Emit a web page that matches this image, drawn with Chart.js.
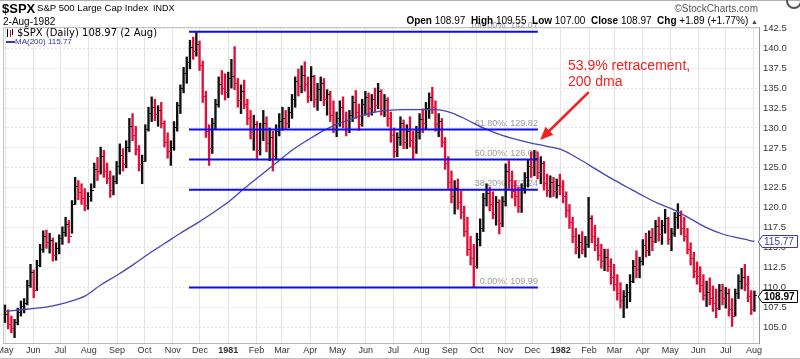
<!DOCTYPE html>
<html><head><meta charset="utf-8">
<script src="https://cdn.jsdelivr.net/npm/chart.js@4/dist/chart.umd.min.js"></script>
<style>
body{margin:0;background:#fff;}
#wrap{position:relative;width:800px;height:359px;overflow:hidden;font-family:Arial,"Liberation Sans",sans-serif;color:#000;}
canvas{position:absolute;left:0;top:0;}
.t{position:absolute;white-space:nowrap;line-height:1;}
</style></head><body>
<div id="wrap">
<canvas id="c" width="800" height="359"></canvas>
<div class="t" style="left:0;top:0;width:800px;height:1px;background:#b0b0b0"></div>
<div class="t" style="left:0;top:358px;width:800px;height:1px;background:#c0c0c0"></div>
<div class="t" style="left:786px;top:-7px;width:12px;height:12px;border:2px solid #555;border-radius:50%"></div>
<div class="t" style="left:2px;top:1.7px;font-size:13px;font-weight:bold">$SPX</div>
<div class="t" style="left:37px;top:3.3px;font-size:9.6px">S&amp;P 500 Large Cap Index</div>
<div class="t" style="left:153px;top:4.1px;font-size:9px">INDX</div>
<div class="t" style="left:3px;top:16.5px;font-size:10px">2-Aug-1982</div>
<div class="t" style="right:42px;top:4px;font-size:10px;color:#555">©StockCharts.com</div>
<div class="t" style="right:42px;top:16px;font-size:10px"><b>Open</b> 108.97 &nbsp;<b>High</b> 109.55 &nbsp;<b>Low</b> 107.00 &nbsp;<b>Close</b> 108.97 &nbsp;<b>Chg</b> +1.89 (+1.77%) <span style="font-size:7px;color:#444">▲</span></div>
<div class="t" style="left:7px;top:29px;width:1px;height:8px;background:#000"></div>
<div class="t" style="left:10px;top:30px;width:1px;height:7px;background:#d01030"></div>
<div class="t" style="left:12px;top:29px;width:1px;height:6px;background:#000"></div>
<div class="t" style="left:17px;top:27.8px;font-size:10px;font-family:'DejaVu Sans',sans-serif">$SPX (Daily) 108.97 (2 Aug)</div>
<div class="t" style="left:6px;top:41px;width:9px;height:2px;background:#3a3aa8"></div>
<div class="t" style="left:15px;top:38.2px;font-size:8px;color:#3030a0">MA(200) 115.77</div>
<div class="t" style="left:568px;top:58.1px;font-size:14px;color:#f52020">53.9% retracement,</div>
<div class="t" style="left:568px;top:74.1px;font-size:14px;color:#f52020">200 dma</div>
</div>
<script>
// Each sample bar covers ~3.5 calendar days starting 1-May-1980
const DAYS_PER_SAMPLE = 3.5;
const highs = [107.8,107.2,106.4,106.0,107.4,108.3,108.6,110.9,112.9,112.2,
 113.4,115.4,117.1,117.2,116.8,116.2,115.6,116.6,117.6,118.8,
 118.4,120.9,123.8,123.4,123.0,122.4,121.9,123.0,125.6,126.3,
 127.6,127.2,125.6,124.6,124.0,125.8,128.0,127.4,128.4,131.2,
 131.8,130.2,127.8,126.6,130.4,132.6,133.9,133.6,132.8,133.2,
 130.9,129.4,128.4,130.8,133.2,135.4,137.6,138.9,141.0,141.4,
 142.07,140.9,138.4,134.6,130.4,131.2,133.6,136.4,137.2,136.8,
 137.0,138.6,140.2,136.2,135.4,136.0,133.6,132.2,131.6,130.8,
 130.6,132.2,131.4,130.0,129.6,130.4,131.8,132.6,132.2,132.6,
 134.2,136.4,137.4,137.8,138.3,136.4,137.7,136.6,135.6,136.4,
 136.2,134.8,134.6,133.4,132.0,133.4,133.9,132.0,132.2,134.0,
 134.7,133.0,133.6,134.6,134.4,134.2,135.0,135.6,134.8,134.2,
 133.8,132.0,130.0,129.4,131.4,131.0,130.4,131.4,129.6,130.2,
 131.8,132.4,133.2,134.4,135.1,133.4,131.8,131.2,128.8,126.4,
 124.6,123.4,123.6,122.1,120.2,118.8,116.4,115.4,116.8,118.6,
 121.8,123.0,122.6,122.0,121.4,121.0,121.4,125.5,125.9,124.6,
 123.4,122.6,123.0,124.4,126.0,127.0,127.2,127.0,126.4,125.8,
 124.2,124.0,123.8,123.6,124.2,123.4,122.0,120.4,118.8,117.4,
 116.6,117.0,116.4,121.3,119.0,117.8,116.2,115.4,114.8,114.8,
 113.6,112.9,111.6,110.6,109.6,110.4,111.6,113.4,114.6,113.8,
 116.0,116.8,117.1,117.4,118.4,118.8,118.4,119.8,118.8,117.4,
 119.4,120.5,119.6,118.8,117.4,115.6,114.4,113.2,112.6,111.6,
 110.8,111.2,110.2,109.8,110.4,110.4,110.0,109.8,108.6,109.8,
 111.6,112.4,112.9,111.4,109.6,109.55];
const lows = [105.6,104.8,104.3,103.7,105.3,106.4,106.8,107.8,110.0,108.7,
 109.6,112.6,114.4,114.9,114.3,113.3,113.4,114.2,115.4,116.4,
 115.6,116.8,120.4,121.0,120.4,119.6,119.8,120.8,122.5,123.4,
 124.2,123.8,123.0,121.3,121.6,123.0,124.2,124.6,125.0,127.0,
 128.4,126.6,124.6,123.0,125.8,129.6,130.8,130.9,130.2,130.0,
 127.6,126.2,125.3,127.2,129.6,131.8,134.4,135.6,137.4,138.6,
 139.0,137.2,133.2,128.8,125.3,126.8,129.8,132.6,134.2,133.5,
 133.8,135.0,134.8,132.6,131.8,132.4,130.4,128.6,127.2,126.0,
 126.6,128.4,127.0,125.9,124.6,126.0,129.0,129.7,129.8,130.0,
 131.2,132.6,134.0,134.4,134.6,133.2,133.4,132.6,132.2,133.4,
 132.8,131.6,130.8,129.4,128.9,130.2,130.0,129.0,129.4,130.8,
 131.2,129.7,130.2,131.6,131.4,131.6,132.0,132.4,131.6,131.4,
 130.2,128.2,126.3,126.4,127.8,127.4,127.4,127.6,126.0,126.8,
 128.6,129.4,129.8,131.2,131.8,129.6,128.9,127.6,124.8,122.4,
 120.6,119.2,119.8,118.6,116.4,114.0,112.8,110.0,112.4,115.2,
 117.0,120.2,119.6,118.6,117.8,116.7,117.6,120.2,122.4,121.2,
 120.2,119.4,119.4,121.8,122.6,123.8,124.0,123.6,123.0,122.2,
 121.4,121.3,121.4,121.2,121.6,120.6,118.8,117.4,115.6,114.2,
 113.7,114.2,113.8,115.0,115.6,114.6,113.4,112.4,112.1,112.0,
 110.4,109.6,108.4,107.4,106.2,107.4,108.2,110.6,111.2,111.2,
 112.8,113.8,114.0,114.6,115.6,115.8,115.4,116.8,115.4,114.6,
 116.4,117.4,116.6,115.8,114.2,112.8,111.2,110.4,109.4,108.4,
 107.6,107.8,107.0,106.2,107.2,107.8,107.4,106.4,105.1,106.4,
 108.6,109.8,109.6,108.2,106.6,107.0];
const closes = [106.6,105.4,104.9,105.6,106.9,107.6,108.0,110.3,111.9,109.6,
 112.8,114.8,116.4,115.6,115.9,114.0,114.9,116.1,116.9,117.9,
 116.4,120.4,122.6,121.9,121.2,120.3,121.4,122.2,124.8,124.6,
 126.4,124.5,123.6,122.2,123.3,125.2,126.6,125.4,127.6,130.2,
 129.1,127.3,125.4,125.8,129.8,131.8,132.6,131.7,132.2,130.6,
 128.2,127.0,127.6,130.1,132.8,134.9,136.8,138.2,140.1,139.6,
 140.5,137.8,134.0,129.6,127.4,130.6,133.0,135.4,135.0,134.4,
 136.2,136.4,135.6,133.4,134.6,133.0,131.2,129.4,130.4,127.2,
 129.8,130.6,128.0,128.8,126.4,129.6,130.8,131.2,130.6,132.0,
 133.6,135.8,135.2,136.6,135.4,134.0,136.4,133.6,134.8,135.6,
 133.6,134.2,131.6,130.4,131.2,132.6,130.8,129.8,131.6,133.2,
 132.0,130.4,133.0,133.8,132.4,133.6,132.8,134.6,132.2,133.4,
 131.2,129.0,127.0,128.8,130.6,128.2,129.6,128.4,127.6,129.4,
 131.0,130.6,132.4,133.8,132.6,130.4,130.8,128.2,125.6,123.2,
 121.4,122.4,120.6,119.4,117.0,114.8,113.6,112.6,116.0,117.4,
 121.2,121.8,120.4,119.2,120.6,118.0,120.8,124.6,123.4,122.0,
 121.4,120.2,122.4,123.8,125.2,125.0,126.2,124.4,125.6,123.0,
 122.2,123.2,122.0,122.8,122.6,121.4,119.6,118.2,116.4,115.0,
 115.6,114.8,115.4,118.6,116.4,115.2,114.0,113.2,113.8,112.6,
 111.2,110.4,109.2,108.4,108.8,109.4,110.8,112.6,112.2,113.2,
 115.2,114.6,116.2,115.8,117.6,116.6,117.8,118.6,116.0,116.8,
 118.8,119.0,117.4,116.4,114.8,113.6,112.0,111.4,110.2,109.0,
 109.4,108.6,108.0,107.4,109.6,108.6,109.2,107.2,106.4,109.2,
 110.8,111.2,110.4,108.8,107.2,108.97];
const maIndex = [0,5,10,15,20,25,30,35,40,45,50,55,60,65,70,75,80,85,90,95,
 100,105,110,115,120,125,130,135,140,145,150,155,160,165,170,175,180,185,190,195,
 200,205,210,215,220,225,230,235];
const maValues = [107.0,107.2,107.4,107.7,108.2,108.9,110.3,111.5,112.8,114.2,
 115.5,116.8,118.0,119.3,120.7,122.4,124.0,125.6,127.2,128.5,
 129.7,130.6,131.3,131.9,132.2,132.3,132.3,132.3,131.9,131.0,
 130.0,129.2,128.6,128.1,127.7,127.2,126.1,124.9,123.7,122.6,
 121.5,120.5,119.7,118.6,117.5,116.7,116.2,115.77];
const fibLevels = [142.07,129.82,126.03,122.24,109.99];
const fibLabels = ['100.00%: 142.07','61.80%: 129.82','50.00%: 126.03','38.20%: 122.24','0.00%: 109.99'];
const fibStart = 57.7, fibEnd = 167.1;
const monthLabels = ['May','Jun','Jul','Aug','Sep','Oct','Nov','Dec','1981','Feb','Mar','Apr','May','Jun','Jul','Aug','Sep','Oct','Nov','Dec','1982','Feb','Mar','Apr','May','Jun','Jul','Aug'];
const yTickValues = [105,107.5,110,112.5,115,117.5,120,122.5,125,127.5,130,132.5,135,137.5,140,142.5];
const lastClose = 108.97, lastMA = 115.77;
const arrowTip = [167.8,128.5], arrowTail = [182.8,134.4];

const RED = '#e0103a', BLACK = '#111111';
const t0 = Date.UTC(1980,4,1);
const monthTickPos = monthLabels.map((_,k)=> (Date.UTC(1980,4+k,1)-t0)/864e5/DAYS_PER_SAMPLE);
const barColors = closes.map((c,i)=> (i>0 && c<closes[i-1]) ? RED : BLACK);
function tickImg(color){const c=document.createElement('canvas');c.width=6;c.height=1;const g=c.getContext('2d');g.fillStyle=color;g.fillRect(3,0,3,1);return c;}
const tickRed = tickImg(RED), tickBlack = tickImg(BLACK);

Chart.defaults.font.family = 'Arial, "Liberation Sans", sans-serif';
const K = 3.189; // px per sample, used only for axis window
const xMin = -2/K, xMax = xMin + 756/K;

const overlay = {
  id:'overlay',
  beforeDatasetsDraw(chart){
    const {ctx, chartArea:a, scales:{x,y}} = chart;
    ctx.save();
    ctx.strokeStyle='#c4c4c4'; ctx.lineWidth=1;
    ctx.beginPath(); ctx.moveTo(a.left+0.5,a.bottom); ctx.lineTo(a.left+0.5,a.top+0.5); ctx.lineTo(a.right,a.top+0.5); ctx.stroke();
    ctx.font='9px Arial'; ctx.fillStyle='#9a9a9a'; ctx.textAlign='right'; ctx.textBaseline='alphabetic';
    fibLevels.forEach((v,k)=>ctx.fillText(fibLabels[k], x.getPixelForValue(fibEnd), y.getPixelForValue(v)-3.5));
    ctx.restore();
  },
  afterDraw(chart){
    const {ctx, chartArea:a, scales:{x,y}} = chart;
    ctx.save();
    const tx=x.getPixelForValue(arrowTip[0]), ty=y.getPixelForValue(arrowTip[1]);
    const sx=x.getPixelForValue(arrowTail[0]), sy=y.getPixelForValue(arrowTail[1]);
    const ang=Math.atan2(ty-sy,tx-sx), L=13, W=5.5;
    const bx=tx-L*Math.cos(ang), by=ty-L*Math.sin(ang);
    ctx.strokeStyle='#f52020'; ctx.fillStyle='#f52020'; ctx.lineWidth=2.6; ctx.lineCap='round';
    ctx.beginPath(); ctx.moveTo(sx,sy); ctx.lineTo(bx,by); ctx.stroke();
    ctx.beginPath(); ctx.moveTo(tx,ty);
    ctx.lineTo(bx+W*Math.sin(ang), by-W*Math.cos(ang));
    ctx.lineTo(bx-W*Math.sin(ang), by+W*Math.cos(ang)); ctx.closePath(); ctx.fill();
    function tag(v,text,color,bold){
      const py=Math.round(y.getPixelForValue(v))+0.5, x0=a.right-0.5, x1=x0+4, x2=797.5, h=12;
      ctx.beginPath(); ctx.moveTo(x0,py); ctx.lineTo(x1,py-h/2); ctx.lineTo(x2,py-h/2); ctx.lineTo(x2,py+h/2); ctx.lineTo(x1,py+h/2); ctx.closePath();
      ctx.fillStyle='#fff'; ctx.fill(); ctx.strokeStyle=color; ctx.lineWidth=1; ctx.stroke();
      ctx.fillStyle=color; ctx.font=(bold?'bold ':'')+'10px Arial'; ctx.textAlign='left'; ctx.textBaseline='middle';
      ctx.fillText(text,x1+1.5,py+0.5);
    }
    tag(lastMA, lastMA.toFixed(2), '#3a3ab0', false);
    tag(lastClose, lastClose.toFixed(2), '#000', true);
    ctx.restore();
  }
};

const datasets = [
  {type:'bar', data: highs.map((h,i)=>({x:i, y:[lows[i],h]})), backgroundColor: barColors, barThickness:1.7, borderWidth:0, order:4},
  {type:'line', data: closes.map((c,i)=>({x:i, y:c})), showLine:false, pointRadius:1, pointHoverRadius:1,
   pointStyle: barColors.map(c=> c===RED ? tickRed : tickBlack), order:3},
  {type:'line', data: maIndex.map((xv,k)=>({x:xv, y:maValues[k]})), borderColor:'#4646b4', borderWidth:1.3, pointRadius:0, cubicInterpolationMode:'monotone', order:2},
];
fibLevels.forEach(v=> datasets.push({type:'line', data:[{x:fibStart,y:v},{x:fibEnd,y:v}], borderColor:'#0a0aff', borderWidth:2, pointRadius:0, order:1}));

new Chart(document.getElementById('c'), {
  type:'bar',
  data:{datasets},
  options:{
    responsive:false, animation:false, devicePixelRatio:1,
    layout:{padding:{left:3, top:27, right:0, bottom:0}},
    plugins:{legend:{display:false}, tooltip:{enabled:false}},
    scales:{
      x:{type:'linear', min:xMin, max:xMax, offset:false,
        grid:{color:'#e3e3e3', drawTicks:false, offset:false},
        border:{color:'#b8b8b8'},
        afterBuildTicks(s){ s.ticks = monthTickPos.map(v=>({value:v})); },
        afterFit(s){ s.height=16; s.paddingLeft=0; s.paddingRight=0; },
        ticks:{autoSkip:false, maxRotation:0, padding:2, color:'#333',
          callback:(v,i)=>monthLabels[i],
          font:(c)=>({size:9, weight: /^\d{4}$/.test(monthLabels[c.index]||'') ? 'bold':'normal'})}
      },
      y:{type:'linear', position:'right', min:103.03, max:142.66,
        grid:{color:'#e3e3e3', drawTicks:false},
        border:{color:'#999', dash:[2,2]},
        afterBuildTicks(s){ s.ticks = yTickValues.map(v=>({value:v})); },
        afterFit(s){ s.width=41; s.paddingTop=0; s.paddingBottom=0; },
        ticks:{padding:4, color:'#333', font:{size:9.5}, callback:(v)=>Number(v).toFixed(1)}
      }
    }
  },
  plugins:[overlay]
});
</script>
</body></html>
